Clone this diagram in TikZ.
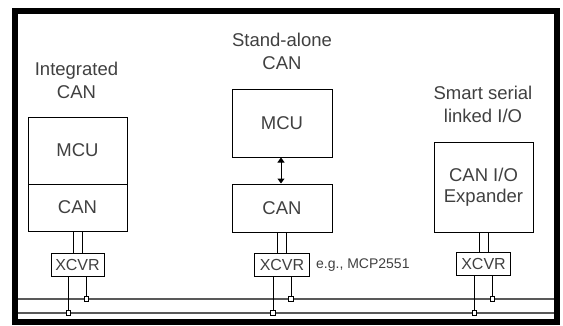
\documentclass[tikz,border=0pt]{standalone}
\usepackage{fontspec}
\setmainfont{Liberation Sans}
\usetikzlibrary{arrows.meta,positioning}

\definecolor{inkgray}{gray}{0.25}
\definecolor{busgray}{gray}{0.35}

\tikzset{
  blockbox/.style={draw=black, line width=1pt, inner sep=0pt, text=inkgray,
    font=\fontsize{18.5}{21}\selectfont, align=center},
  xcvrbox/.style={draw=black, line width=1pt, inner sep=0pt, text=inkgray,
    minimum height=23pt, font=\fontsize{16}{18}\selectfont},
  heading/.style={text=inkgray, align=center, inner sep=0pt,
    font=\fontsize{18.5}{23}\selectfont},
  tap/.style={draw=black, fill=white, line width=0.8pt, inner sep=0pt,
    minimum size=4.5pt},
  wire/.style={line width=1pt, black},
  bus/.style={line width=1.4pt, busgray}
}

\begin{document}
\begin{tikzpicture}[x=1pt, y=-1pt]
		\useasboundingbox (0,0) rectangle (563,325);
		\draw[line width=6pt] (14.5,11) rectangle (557,322);
		% headings
		\node[heading] (headA) at (76.5,80) {Integrated\\CAN};
		\node[heading] (headB) at (282,51.5) {Stand-alone\\CAN};
		\node[heading] (headC) at (483,104.5) {Smart serial\\linked I/O};
		% blocks
		\node[blockbox, minimum width=99pt, minimum height=67pt] (mcuA) at (77.5,150.5) {MCU};
		\node[blockbox, minimum width=99pt, minimum height=47pt] (canA) at (77.5,207.5) {CAN};
		\node[blockbox, minimum width=100pt, minimum height=68pt] (mcuB) at (282,123) {MCU};
		\node[blockbox, minimum width=100pt, minimum height=48pt] (canB) at (282,208) {CAN};
		\node[blockbox, minimum width=99pt, minimum height=90pt] (ioC) at (483.5,187) {CAN I/O\\Expander};
		% transceivers
		\node[xcvrbox, minimum width=53pt] (xcvrA) at (77.5,264.5) {XCVR};
		\node[xcvrbox, minimum width=55pt] (xcvrB) at (282,264.5) {XCVR};
		\node[xcvrbox, minimum width=54pt] (xcvrC) at (483.5,264) {XCVR};
		\node[right=6pt of xcvrB, inner sep=0pt, text=inkgray,
		  font=\fontsize{14}{16}\selectfont, yshift=-1pt] (partB) {e.g., MCP2551};
		% bus
		\coordinate (busHL) at (18,299);
		\coordinate (busHR) at (554,299);
		\coordinate (busLL) at (18,313);
		\coordinate (busLR) at (554,313);
		\draw[bus] (busHL) -- (busHR);
		\draw[bus] (busLL) -- (busLR);
		\node[tap] (tapA1) at (68.5,313) {};
		\node[tap] (tapA2) at (86.5,299) {};
		\node[tap] (tapB1) at (273,313) {};
		\node[tap] (tapB2) at (291,299) {};
		\node[tap] (tapC1) at (474.5,313) {};
		\node[tap] (tapC2) at (492.5,299) {};
		% links to transceivers
		\foreach \blk/\xc in {canA/xcvrA, canB/xcvrB, ioC/xcvrC}{
		  \draw[wire] ([xshift=-4.5pt]\blk.south) -- ([xshift=-4.5pt]\xc.north);
		  \draw[wire] ([xshift=4.5pt]\blk.south) -- ([xshift=4.5pt]\xc.north);
		}
		\draw[wire] ([xshift=-9pt]xcvrA.south) -- (tapA1);
		\draw[wire] ([xshift=9pt]xcvrA.south) -- (tapA2);
		\draw[wire] ([xshift=-9pt]xcvrB.south) -- (tapB1);
		\draw[wire] ([xshift=9pt]xcvrB.south) -- (tapB2);
		\draw[wire] ([xshift=-9pt]xcvrC.south) -- (tapC1);
		\draw[wire] ([xshift=9pt]xcvrC.south) -- (tapC2);
		% MCU to CAN controller
		\draw[wire, {Triangle[length=5pt,width=7pt]}-{Triangle[length=5pt,width=7pt]}]
		  ([xshift=-1pt]mcuB.south) -- ([xshift=-1pt]canB.north);
\end{tikzpicture}
\end{document}
